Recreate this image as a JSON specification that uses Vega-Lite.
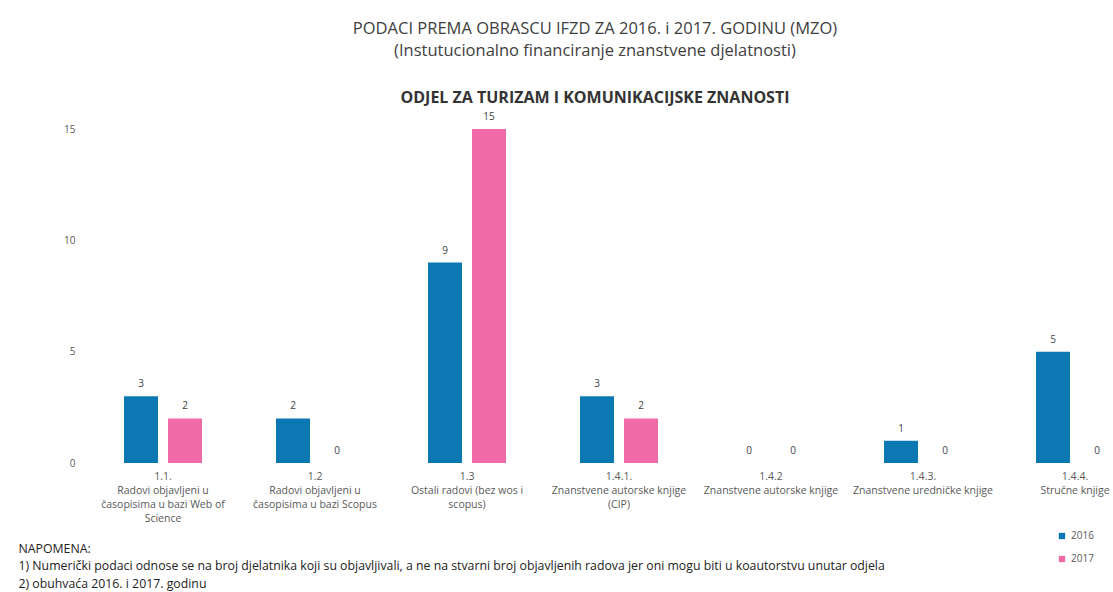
{
  "$schema": "https://vega.github.io/schema/vega-lite/v6.json",
  "autosize": {"type": "none"},
  "width": 1026,
  "height": 334,
  "padding": {"left": 87, "top": 129, "right": 0, "bottom": 129},
  "background": "white",
  "config": {"view": {"stroke": null}, "font": "Open Sans"},
  "title": {
    "text": ["PODACI PREMA OBRASCU IFZD ZA 2016. i 2017. GODINU (MZO)", "(Instutucionalno financiranje znanstvene djelatnosti)"],
    "subtitle": "ODJEL ZA TURIZAM I KOMUNIKACIJSKE ZNANOSTI",
    "anchor": "middle",
    "dx": -5,
    "fontSize": 16.5,
    "fontWeight": "normal",
    "color": "#404040",
    "lineHeight": 22,
    "subtitleFontSize": 16,
    "subtitleFontWeight": "bold",
    "subtitleColor": "#333333",
    "subtitlePadding": 31,
    "offset": 6
  },
  "data": {
    "values": [
      {"cat": "1.1.|Radovi objavljeni  u|časopisima u bazi Web of|Science", "year": "2016", "value": 3},
      {"cat": "1.1.|Radovi objavljeni  u|časopisima u bazi Web of|Science", "year": "2017", "value": 2},
      {"cat": "1.2|Radovi objavljeni  u|časopisima u bazi Scopus", "year": "2016", "value": 2},
      {"cat": "1.2|Radovi objavljeni  u|časopisima u bazi Scopus", "year": "2017", "value": 0},
      {"cat": "1.3|Ostali radovi  (bez wos i|scopus)", "year": "2016", "value": 9},
      {"cat": "1.3|Ostali radovi  (bez wos i|scopus)", "year": "2017", "value": 15},
      {"cat": "1.4.1.|Znanstvene autorske knjige|(CIP)", "year": "2016", "value": 3},
      {"cat": "1.4.1.|Znanstvene autorske knjige|(CIP)", "year": "2017", "value": 2},
      {"cat": "1.4.2|Znanstvene autorske knjige", "year": "2016", "value": 0},
      {"cat": "1.4.2|Znanstvene autorske knjige", "year": "2017", "value": 0},
      {"cat": "1.4.3.|Znanstvene uredničke knjige", "year": "2016", "value": 1},
      {"cat": "1.4.3.|Znanstvene uredničke knjige", "year": "2017", "value": 0},
      {"cat": "1.4.4.|Stručne knjige", "year": "2016", "value": 5},
      {"cat": "1.4.4.|Stručne knjige", "year": "2017", "value": 0}
    ]
  },
  "encoding": {
    "x": {
      "field": "cat",
      "type": "nominal",
      "sort": null,
      "scale": {"range": [0, 1064], "paddingInner": 0, "paddingOuter": 0},
      "axis": {
        "labelAngle": 0,
        "domain": false,
        "ticks": false,
        "labelPadding": 8,
        "labelFontSize": 10.5,
        "labelLineHeight": 14,
        "labelColor": "#595959",
        "labelLimit": 0,
        "labelOverlap": false,
        "labelFlush": false,
        "labelExpr": "split(datum.label, '|')",
        "title": ["NAPOMENA:", "1) Numerički podaci odnose se na broj djelatnika koji su objavljivali, a ne na stvarni broj objavljenih radova jer oni mogu biti u koautorstvu unutar odjela", "2) obuhvaća 2016. i 2017. godinu"],
        "titleX": -69,
        "titleY": 79,
        "titleAlign": "left",
        "titleAnchor": "start",
        "titleBaseline": "top",
        "titleFontSize": 12.3,
        "titleFontWeight": "normal",
        "titleColor": "#222222",
        "titleLineHeight": 17.5,
        "titleLimit": 1100
      }
    },
    "xOffset": {"field": "year", "type": "nominal", "scale": {"paddingInner": 0.227, "paddingOuter": 0.841}},
    "y": {
      "field": "value",
      "type": "quantitative",
      "scale": {"domain": [0, 15], "nice": false},
      "axis": {
        "values": [0, 5, 10, 15],
        "domain": false,
        "ticks": false,
        "grid": false,
        "labelPadding": 12,
        "labelFontSize": 10,
        "labelColor": "#595959",
        "title": null
      }
    }
  },
  "layer": [
    {
      "mark": {"type": "bar"},
      "encoding": {
        "color": {
          "field": "year",
          "type": "nominal",
          "scale": {"domain": ["2016", "2017"], "range": ["#0b78b4", "#f06aa8"]},
          "legend": {
            "title": null,
            "orient": "none",
            "legendX": 970,
            "legendY": 402,
            "symbolType": "square",
            "symbolSize": 40,
            "labelFontSize": 10,
            "labelColor": "#595959",
            "rowPadding": 13
          }
        }
      }
    },
    {
      "mark": {"type": "text", "baseline": "bottom", "dy": -7, "fontSize": 10, "color": "#404040"},
      "encoding": {"text": {"field": "value", "type": "quantitative"}}
    }
  ]
}
